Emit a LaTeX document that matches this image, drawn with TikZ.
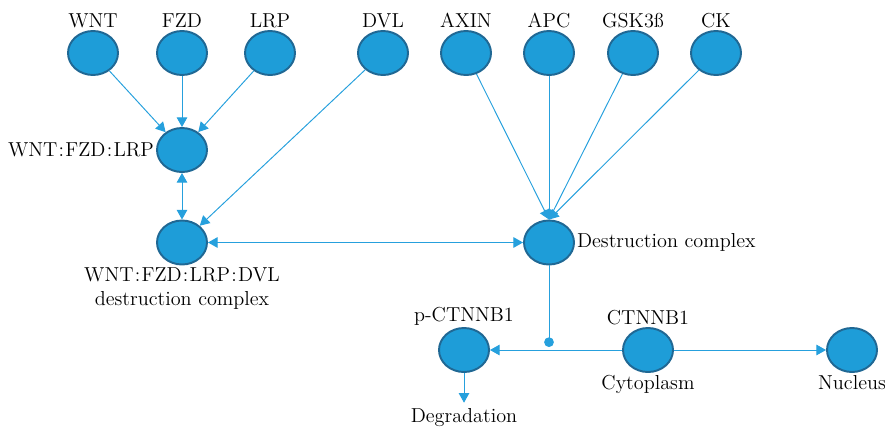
\documentclass[tikz,border=0pt]{standalone}
\usepackage{tikz}
\usetikzlibrary{arrows.meta, shapes.geometric}
\definecolor{cblob}{RGB}{30,157,216}
\definecolor{cedge}{RGB}{32,104,148}
\definecolor{cline}{RGB}{38,160,221}
\newcommand*{\cln}{{\kern.7pt}:{\kern.7pt}}
\tikzset{>={Triangle[length=5.5pt, width=6pt]}}
\tikzset{blob/.style={ellipse, draw=cedge, line width=1.1pt, fill=cblob, minimum width=1cm, minimum height=.88cm, inner sep=0pt}}
\tikzset{conn/.style={cline, line width=.55pt}}
\tikzset{every label/.style={font=\fontsize{11.5}{13.5}\selectfont, inner sep=1pt}}

\begin{document}
\begin{tikzpicture}[font=\fontsize{11.5}{13.5}\selectfont]
    \useasboundingbox(0, 0)rectangle(17.7, 8.68);
    \node[blob, label=above:WNT](wnt)at(1.86, 7.62){};
    \node[blob, label=above:FZD](fzd)at(3.64, 7.62){};
    \node[blob, label=above:LRP](lrp)at(5.40, 7.62){};
    \node[blob, label=above:DVL](dvl)at(7.66, 7.62){};
    \node[blob, label=above:AXIN](axin)at(9.32, 7.62){};
    \node[blob, label=above:APC](apc)at(10.98, 7.62){};
    \node[blob, label=above:GSK3ß](gsk)at(12.66, 7.62){};
    \node[blob, label=above:CK](ck)at(14.32, 7.62){};
    \node[blob, label=left:WNT\cln FZD\cln LRP](wfl)at(3.64, 5.68){};
    \node[blob, label={[align=center]below:WNT\cln FZD\cln LRP\cln DVL\\destruction complex}](wfld)at(3.64, 3.83){};
    \node[blob, label=right:Destruction complex](dc)at(10.98, 3.83){};
    \node[blob, label=above:p-CTNNB1](pc)at(9.28, 1.68){};
    \node[blob, label=above:CTNNB1, label=below:Cytoplasm](ctn)at(12.96, 1.68){};
    \node[blob, label=below:Nucleus](nuc)at(17.04, 1.68){};
    \node(deg)at(9.28, .32){Degradation};
    \coordinate(cat)at(10.98, 1.74);
    % receptor complex
    \draw[conn, ->](wnt)--(wfl);
    \draw[conn, ->](fzd)--(wfl);
    \draw[conn, ->](lrp)--(wfl);
    \draw[conn, <->](wfl)--(wfld);
    \draw[conn, ->](dvl)--(wfld);
    % destruction complex
    \draw[conn, ->](axin)--(dc.north);
    \draw[conn, ->](apc)--(dc.north);
    \draw[conn, ->](gsk)--(dc.north);
    \draw[conn, ->](ck)--(dc.north);
    \draw[conn, <->](wfld)--(dc);
    % beta-catenin
    \draw[conn, -{Circle[length=5.5pt]}](dc)--(cat);
    \draw[conn, ->](ctn)--(pc);
    \draw[conn, ->](ctn)--(nuc);
    \draw[conn, ->](pc)--(deg);
\end{tikzpicture}
\end{document}
